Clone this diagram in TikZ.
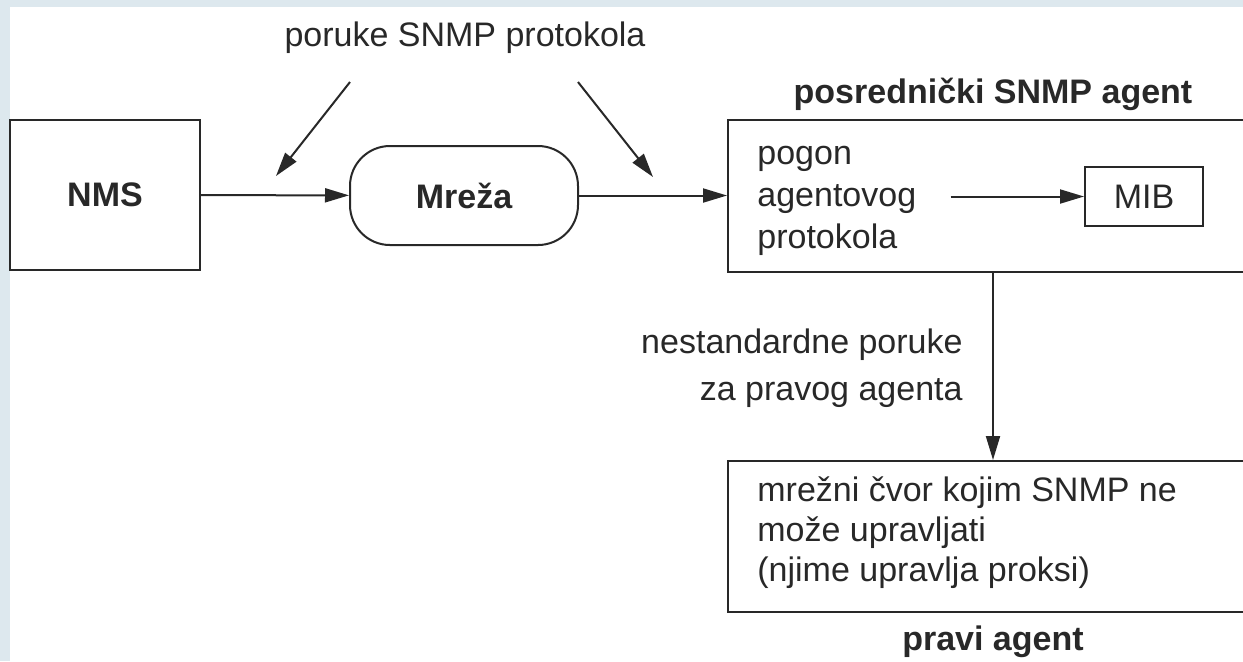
\documentclass[tikz,border=0pt]{standalone}
\usepackage{fontspec}
\setmainfont{Liberation Sans}
\usetikzlibrary{arrows.meta}
\definecolor{framebg}{RGB}{221,232,238}
\definecolor{ink}{RGB}{40,40,40}

\begin{document}
\begin{tikzpicture}[x=0.5pt,y=-0.5pt,
  box/.style={draw=ink,line width=1pt,inner sep=0pt},
  txt/.style={font=\fontsize{17}{21}\selectfont,text=ink,inner sep=0pt},
  boldtxt/.style={txt,font=\fontsize{17}{21}\selectfont\bfseries},
  arr/.style={draw=ink,line width=1pt,-{Triangle[length=12pt,width=7pt]}}]
\useasboundingbox (0,0) rectangle (1243,661);
\clip (0,0) rectangle (1243,661);
\fill[framebg] (0,0) rectangle (1243,661);
\fill[white] (10,7) rectangle (1243,661);

% left part
\node[box,boldtxt,minimum width=95pt,minimum height=75pt] (nms) at (105,195) {NMS};
\node[box,boldtxt,minimum width=114pt,minimum height=49.5pt,rounded corners=20pt] (mreza) at (464,195.5) {Mre\v{z}a};
\node[txt] (poruke) at (465,38) {poruke SNMP protokola};
\coordinate (lhs) at (350,82);
\coordinate (lhe) at (276,176);
\coordinate (rhs) at (578,82);
\coordinate (rhe) at (653,177);

% proxy agent
\node[box,minimum width=265pt,minimum height=76pt] (agent) at (993,196) {};
\node[boldtxt,anchor=south] (agentlbl) at ([yshift=4pt]agent.north) {posredni\v{c}ki SNMP agent};
\node[txt,align=left,anchor=west] (pogon) at (757,201) {pogon\\agentovog\\protokola};
\node[box,txt,minimum width=59pt,minimum height=29.5pt] (mib) at (1144,196.5) {MIB};

% real agent
\node[box,minimum width=265pt,minimum height=75.5pt] (real) at (993,536.5) {};
\node[txt,font=\fontsize{17}{20}\selectfont,align=left,anchor=west] (cvor) at (757,533) {mre\v{z}ni \v{c}vor kojim SNMP ne\\mo\v{z}e upravljati\\(njime upravlja proksi)};
\node[boldtxt,anchor=north] (reallbl) at ([yshift=-6pt]real.south) {pravi agent};
\node[txt,font=\fontsize{17}{23.5}\selectfont,align=right,anchor=east] (nestd) at (963,368) {nestandardne poruke\\za pravog agenta};

% connectors
\draw[arr] (nms) -- (mreza);
\draw[arr] (mreza.east) -- (mreza.east -| agent.west);
\draw[arr] (lhs) -- (lhe);
\draw[arr] (rhs) -- (rhe);
\draw[arr] ([xshift=17pt]pogon.east |- mib.west) -- (mib.west);
\draw[arr] (agent.south) -- (real.north);
\end{tikzpicture}
\end{document}
